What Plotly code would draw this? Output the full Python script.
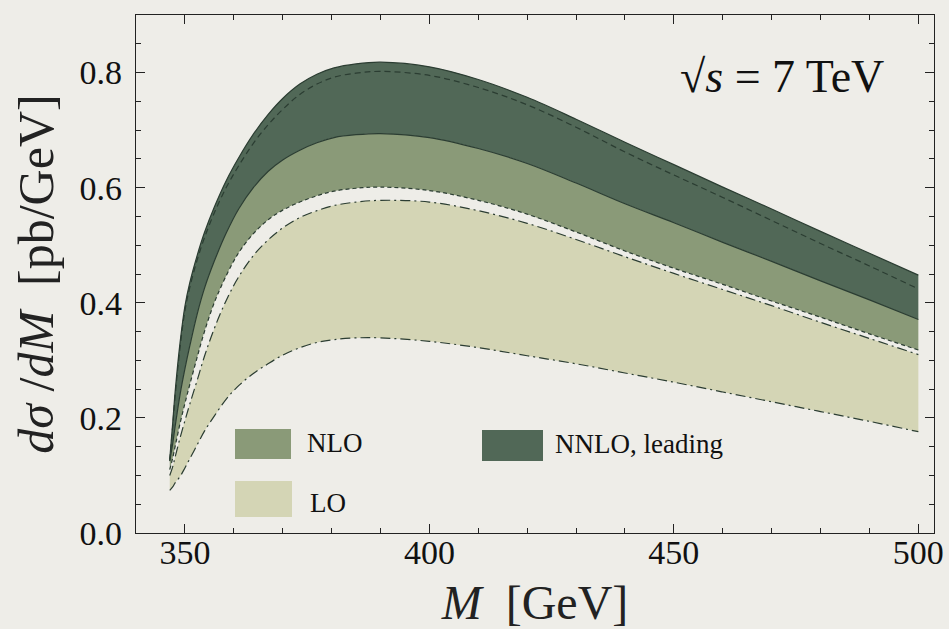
import plotly.graph_objects as go

# invariant mass grid (GeV)
M = [346.9, 347.5, 348, 349, 350, 351, 352.5, 354, 356, 358.5, 361, 364, 367, 370, 373.5, 377,
     380.5, 385, 390, 400, 410, 420, 430, 440, 450, 460, 470, 480, 490, 500]

# LO band: lower / upper edges (dash-dot)
lo_low = [0.074, 0.080, 0.087, 0.098, 0.113, 0.129, 0.153, 0.177, 0.203, 0.233, 0.256, 0.277, 0.294,
          0.309, 0.322, 0.331, 0.336, 0.339, 0.339, 0.333, 0.322, 0.308, 0.294, 0.278, 0.262, 0.245,
          0.228, 0.211, 0.194, 0.176]
lo_high = [0.100, 0.115, 0.132, 0.165, 0.195, 0.224, 0.265, 0.307, 0.355, 0.405, 0.445, 0.482, 0.509,
           0.530, 0.548, 0.560, 0.569, 0.575, 0.578, 0.575, 0.560, 0.538, 0.510, 0.480, 0.451, 0.423,
           0.395, 0.366, 0.338, 0.310]
# NLO band: lower (dashed) / upper (solid)
nlo_low = [0.110, 0.130, 0.150, 0.190, 0.225, 0.258, 0.305, 0.350, 0.400, 0.448, 0.487, 0.520, 0.544,
           0.561, 0.575, 0.586, 0.594, 0.599, 0.601, 0.595, 0.578, 0.554, 0.523, 0.490, 0.460, 0.432,
           0.403, 0.375, 0.346, 0.318]
nlo_high = [0.125, 0.155, 0.185, 0.240, 0.285, 0.325, 0.380, 0.425, 0.472, 0.522, 0.563, 0.600, 0.628,
            0.648, 0.665, 0.678, 0.687, 0.692, 0.694, 0.687, 0.668, 0.642, 0.608, 0.572, 0.539, 0.505,
            0.472, 0.438, 0.405, 0.371]
# NNLO, leading: upper edge (solid) and dashed central curve
nnlo_high = [0.128, 0.190, 0.245, 0.330, 0.394, 0.435, 0.482, 0.522, 0.566, 0.613, 0.652, 0.693, 0.727,
             0.755, 0.780, 0.797, 0.808, 0.815, 0.818, 0.810, 0.788, 0.757, 0.719, 0.679, 0.640, 0.601,
             0.563, 0.524, 0.486, 0.448]
nnlo_dash = [0.126, 0.185, 0.238, 0.322, 0.386, 0.427, 0.474, 0.513, 0.556, 0.601, 0.638, 0.677, 0.709,
             0.736, 0.762, 0.780, 0.792, 0.799, 0.802, 0.795, 0.774, 0.744, 0.705, 0.662, 0.622, 0.583,
             0.543, 0.503, 0.464, 0.424]

x_ticks = [350, 400, 450, 500]
y_ticks = [0.0, 0.2, 0.4, 0.6, 0.8]

LINE = "#2b3d32"
C_LO = "#d4d5b5"
C_NLO = "#8a9a78"
C_NNLO = "#516857"
BG = "#eeede8"
FONT = "Liberation Serif"

fig = go.Figure()
common = dict(mode="lines", line_shape="spline", showlegend=False, hoverinfo="skip")
dashdot = "10px,4px,2px,4px"
fig.add_trace(go.Scatter(x=M, y=lo_low, line=dict(color=LINE, width=1.2, dash=dashdot), **common))
fig.add_trace(go.Scatter(x=M, y=lo_high, fill="tonexty", fillcolor=C_LO,
                         line=dict(color=LINE, width=1.2, dash=dashdot), **common))
fig.add_trace(go.Scatter(x=M, y=nlo_low, line=dict(color=LINE, width=1.2, dash="4px,3px"), **common))
fig.add_trace(go.Scatter(x=M, y=nlo_high, fill="tonexty", fillcolor=C_NLO,
                         line=dict(color=LINE, width=1.2), **common))
fig.add_trace(go.Scatter(x=M, y=nnlo_high, fill="tonexty", fillcolor=C_NNLO,
                         line=dict(color=LINE, width=1.2), **common))
fig.add_trace(go.Scatter(x=M, y=nnlo_dash, line=dict(color=LINE, width=1.2, dash="6px,4px"), **common))

axis_common = dict(showline=True, linecolor="#222222", linewidth=1.2, mirror="allticks",
                   ticks="inside", tickcolor="#222222", showgrid=False, zeroline=False,
                   automargin=False, ticklen=9,
                   tickfont=dict(family=FONT, size=34, color="#111111"))

fig.update_xaxes(range=[340, 503.2], tickvals=x_ticks, ticktext=[str(v) for v in x_ticks],
                 ticklabelstandoff=-11,
                 minor=dict(dtick=10, tick0=340, ticks="inside", ticklen=5, tickcolor="#222222"),
                 title=dict(text="<i>M</i>  [GeV]", font=dict(family=FONT, size=48, color="#222222"),
                            standoff=17),
                 **axis_common)
fig.update_yaxes(range=[0, 0.9], tickvals=y_ticks, ticktext=[f"{v:.1f}" for v in y_ticks],
                 ticklabelstandoff=6,
                 minor=dict(dtick=0.05, tick0=0, ticks="inside", ticklen=5, tickcolor="#222222"),
                 title=dict(text="<i>dσ</i> /<i>dM</i>  [pb/GeV]",
                            font=dict(family=FONT, size=50, color="#222222"), standoff=10),
                 **axis_common)

plot_top, plot_bottom, plot_left, plot_right = 15, 533, 136, 934
def px_x(px):
    return (px - plot_left) / (plot_right - plot_left)
def px_y(py):
    return (plot_bottom - py) / (plot_bottom - plot_top)

legend_px = [
    (C_NLO, "NLO", 235, 291, 429, 459, 305, 443),
    (C_LO, "LO", 235, 292, 481, 517, 308, 503),
    (C_NNLO, "NNLO, leading", 482, 543, 430, 461, 553, 444),
]
for col, label, x0, x1, y0, y1, tx, ty in legend_px:
    fig.add_shape(type="rect", xref="paper", yref="paper", x0=px_x(x0), x1=px_x(x1),
                  y0=px_y(y0), y1=px_y(y1), fillcolor=col, line=dict(width=0), layer="above")
    fig.add_annotation(xref="paper", yref="paper", x=px_x(tx), y=px_y(ty), text=label,
                       showarrow=False, xanchor="left", yanchor="middle",
                       font=dict(family=FONT, size=27, color="#111111"))

fig.add_annotation(xref="paper", yref="paper", x=px_x(886), y=px_y(76),
                   text="√<i>s</i> = 7 TeV", showarrow=False, xanchor="right", yanchor="middle",
                   font=dict(family=FONT, size=46, color="#111111"))

fig.update_layout(width=949, height=629, paper_bgcolor=BG, plot_bgcolor=BG,
                  margin=dict(l=136, r=15, t=15, b=96), showlegend=False)
fig.write_html("out.html", config={"displayModeBar": False})

# remove default browser page margin so the figure fills the window exactly
with open("out.html", "r", encoding="utf-8") as f:
    html = f.read()
html = html.replace("<head>", "<head><style>html,body{margin:0;padding:0;overflow:hidden;background:#eeede8;}</style>", 1)
with open("out.html", "w", encoding="utf-8") as f:
    f.write(html)
